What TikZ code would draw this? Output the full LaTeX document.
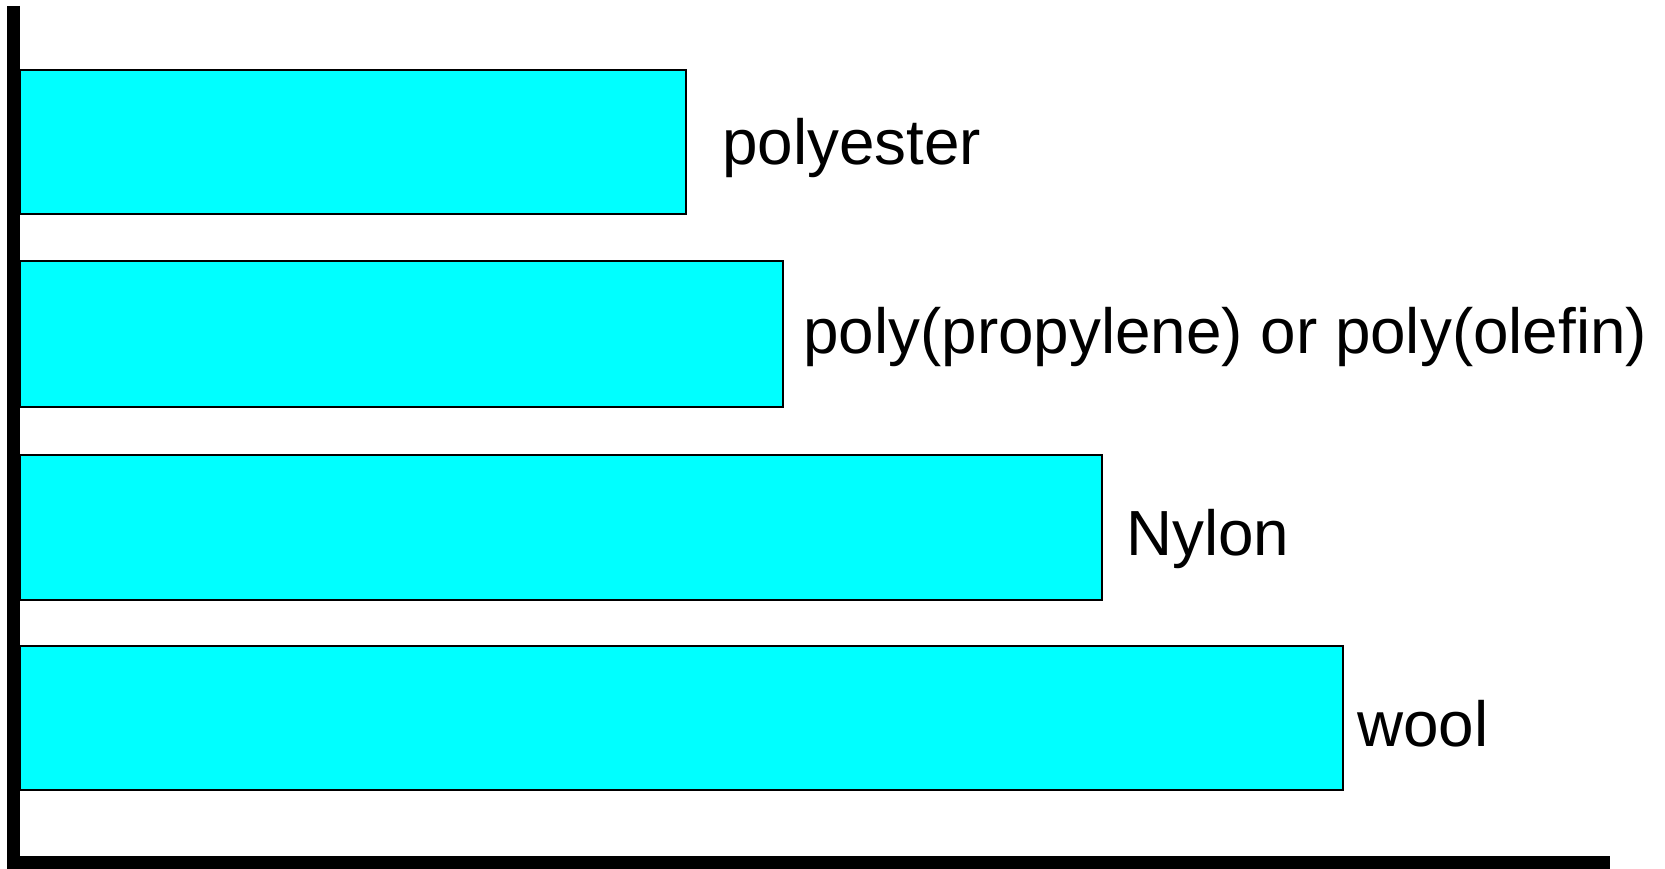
\documentclass[tikz,border=0pt]{standalone}
\usepackage{fontspec}
\setmainfont{Liberation Sans}
\definecolor{barcyan}{RGB}{0,255,255}
\tikzset{
  bar/.style={fill=barcyan,draw=black,line width=1.1pt},
  barlabel/.style={anchor=base west,inner sep=0pt,font=\fontsize{36.3}{40}\selectfont}
}
\begin{document}
\begin{tikzpicture}
\useasboundingbox (0,0) rectangle (33.3,17.38);
  % Draw bars
  \draw[bar] (0.4,13.10) rectangle (13.72,15.98);
  \draw[bar] (0.4,9.24)  rectangle (15.66,12.16);
  \draw[bar] (0.4,5.38)  rectangle (22.04,8.28);
  \draw[bar] (0.4,1.58)  rectangle (26.86,4.46);
  % Draw labels
  \node[barlabel] (polyester) at (14.44,14.08) {polyester};
  \node[barlabel] (olefin)    at (16.06,10.30) {poly(propylene) or poly(olefin)};
  \node[barlabel] (nylon)     at (22.52,6.26)  {Nylon};
  \node[barlabel] (wool)      at (27.14,2.44)  {wool};
  % Draw axes
  \draw[line width=0.26cm] (0.27,17.26) |- (32.2,0.13);
\end{tikzpicture}
\end{document}
